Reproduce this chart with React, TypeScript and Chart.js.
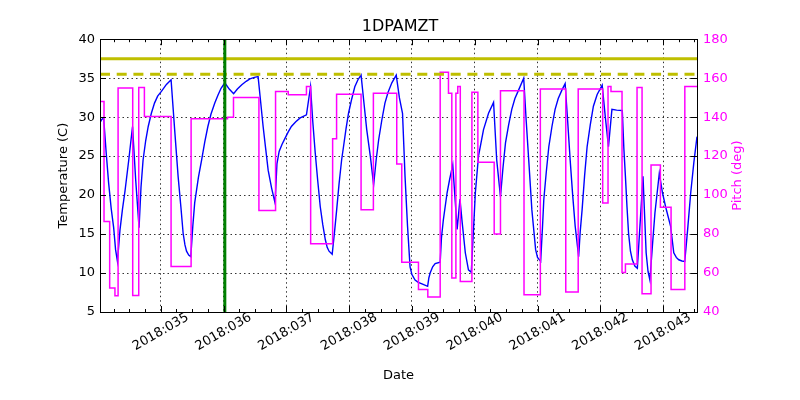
import React, { useEffect, useRef } from "react";
import { Chart, registerables } from "chart.js";
Chart.register(...registerables);

const TITLE = "1DPAMZT";
const YEAR = "2018";
const FONT = "'DejaVu Sans', sans-serif";

const xMin = 34.032;
const xMax = 43.54;
const dayTicks = [35, 36, 37, 38, 39, 40, 41, 42, 43];
const tempRange = [5, 40];
const pitchRange = [40, 180];

const planningLimit = 37.5;
const cautionLimit = 35.5;
const eventDay = 36.02;

const tempDays = [
  34.032, 34.06, 34.09, 34.13, 34.17, 34.21, 34.25, 34.28, 34.31, 34.35, 34.39, 34.43, 34.49, 34.55,
  34.6, 34.654, 34.685, 34.718, 34.76, 34.8, 34.85, 34.9, 34.95, 35.01, 35.09, 35.164,
  35.22, 35.276, 35.32, 35.356, 35.385, 35.41, 35.445, 35.478, 35.51, 35.54, 35.6, 35.65, 35.7,
  35.75, 35.8, 35.86, 35.91, 35.96, 36.02, 36.09, 36.16, 36.22, 36.29, 36.36, 36.42, 36.49, 36.55,
  36.59, 36.63, 36.67, 36.71, 36.765, 36.82, 36.85, 36.885, 36.93, 36.98, 37.03, 37.08, 37.15,
  37.22, 37.27, 37.32, 37.385, 37.42, 37.46, 37.5, 37.54, 37.58, 37.62, 37.65, 37.68, 37.73,
  37.77, 37.8, 37.84, 37.88, 37.91, 37.95, 37.99, 38.04, 38.09, 38.14, 38.19, 38.24, 38.28, 38.34,
  38.39, 38.43, 38.47, 38.52, 38.57, 38.62, 38.68, 38.75, 38.8, 38.85, 38.87, 38.89, 38.93, 38.97,
  39.0, 39.05, 39.1, 39.16, 39.25, 39.27, 39.29, 39.33, 39.37, 39.45, 39.47, 39.5, 39.56, 39.6,
  39.65, 39.72, 39.765, 39.8, 39.85, 39.9, 39.945, 39.98, 40.01, 40.06, 40.14, 40.22, 40.3, 40.35,
  40.41, 40.45, 40.49, 40.54, 40.59, 40.64, 40.7, 40.78, 40.82, 40.86, 40.91, 40.97, 41.0, 41.05,
  41.08, 41.1, 41.14, 41.18, 41.23, 41.28, 41.33, 41.39, 41.44, 41.48, 41.52, 41.56, 41.6, 41.655,
  41.68, 41.71, 41.75, 41.79, 41.84, 41.89, 41.95, 42.03, 42.08, 42.13, 42.185, 42.26, 42.35,
  42.375, 42.4, 42.425, 42.45, 42.48, 42.51, 42.55, 42.59, 42.68, 42.73, 42.76, 42.79, 42.83,
  42.87, 42.94, 42.99, 43.04, 43.12, 43.17, 43.21, 43.25, 43.3, 43.345, 43.39, 43.44, 43.49, 43.54,
];
const tempValues = [
  29.3, 29.7, 29.9, 25.5, 21.5, 18.3, 15.8, 13.0, 11.5, 15.5, 18.2, 20.5, 24.5, 28.8,
  22.0, 15.8, 21.0, 24.5, 27.0, 28.8, 30.5, 31.8, 32.7, 33.3, 34.2, 34.8,
  28.5, 22.4, 18.5, 15.1, 13.6, 12.8, 12.3, 12.1, 16.0, 19.0, 22.3, 24.5, 26.8,
  28.8, 30.4, 31.8, 32.8, 33.7, 34.4, 33.6, 33.0, 33.6, 34.15, 34.6, 34.9, 35.1, 35.2,
  32.0, 28.8, 26.0, 23.2, 20.9, 19.0, 24.0, 25.6, 26.5, 27.3, 28.1, 28.8, 29.4,
  29.9, 30.1, 30.3, 33.9, 29.5, 25.4, 21.8, 18.5, 16.2, 14.3, 13.3, 12.8, 12.4,
  15.5, 18.0, 21.5, 24.5, 26.2, 28.5, 30.5, 32.3, 33.9, 34.8, 35.4, 31.5, 28.4, 24.8,
  21.3, 24.5, 27.1, 29.6, 31.8, 33.2, 34.4, 35.4, 32.5, 30.5, 26.5, 22.4, 16.0, 10.8,
  9.8, 9.1, 8.8, 8.6, 8.3, 9.4, 10.0, 10.8, 11.2, 11.4, 14.5, 16.8, 20.3, 22.0,
  23.9, 15.6, 19.5, 16.5, 12.6, 10.4, 10.1, 15.5, 20.3, 25.0, 28.4, 30.5, 31.9, 24.5,
  19.8, 23.5, 26.7, 29.0, 31.0, 32.4, 33.5, 35.0, 29.5, 24.5, 18.1, 13.0, 12.0, 11.5,
  16.0, 19.4, 23.0, 26.2, 28.8, 31.0, 32.4, 33.5, 34.3, 29.5, 24.5, 20.0, 16.0, 12.1,
  15.3, 18.1, 22.5, 26.2, 29.0, 31.4, 32.9, 34.1, 30.0, 26.2, 31.0, 30.9, 30.85,
  26.0, 22.4, 18.5, 15.1, 12.8, 11.7, 10.9, 10.6, 22.4, 12.6, 10.2, 9.1, 13.5,
  17.7, 22.8, 20.3, 18.5, 16.0, 12.6, 12.0, 11.7, 11.55, 11.5, 15.5, 20.3, 24.2, 27.5,
];

// Pitch: each value holds from its day until the next day in the list
const pitchDays = [
  34.032, 34.096, 34.186, 34.27, 34.32, 34.553, 34.649, 34.739, 35.164, 35.483, 36.063, 36.158,
  36.563, 36.828, 37.03, 37.32, 37.387, 37.737, 37.8, 38.19, 38.386, 38.758, 38.838, 39.104,
  39.253, 39.45, 39.582, 39.635, 39.7, 39.73, 39.77, 39.955, 40.05, 40.31, 40.41, 40.785,
  41.045, 41.45, 41.648, 42.038, 42.123, 42.17, 42.346, 42.4, 42.585, 42.665, 42.808, 42.957,
  43.127, 43.346, 43.54,
];
const pitchValues = [
  148.0, 86.5, 52.3, 48.4, 154.9, 48.5, 155.2, 140.3, 63.4, 139.2, 140.0, 150.1,
  92.1, 153.2, 151.5, 155.7, 75.0, 128.9, 151.8, 92.5, 152.3, 115.9, 65.5, 51.5,
  47.7, 163.1, 152.3, 57.4, 152.3, 155.7, 55.7, 152.8, 116.8, 80.0, 153.5, 48.9,
  154.4, 50.3, 154.5, 95.9, 155.7, 153.2, 60.3, 64.6, 155.2, 49.4, 115.4, 93.7,
  51.5, 155.7, 155.7,
];

const dayLabel = (v: number) => `${YEAR}:${String(Math.round(v)).padStart(3, "0")}`;

const decorPlugin = {
  id: "decor",
  afterDraw(chart: any) {
    const { ctx, chartArea: a, scales } = chart;
    const x = scales.x;
    const y = scales.y;
    const y2 = scales.y2;
    ctx.save();
    ctx.strokeStyle = "#000";
    ctx.lineWidth = 1;
    ctx.setLineDash([]);
    ctx.beginPath();
    for (const t of x.ticks) {
      const px = Math.round(x.getPixelForValue(t.value)) + 0.5;
      ctx.moveTo(px, a.bottom);
      ctx.lineTo(px, a.bottom - 6);
      ctx.moveTo(px, a.top);
      ctx.lineTo(px, a.top + 6);
    }
    for (let v = Math.ceil(x.min * 4) / 4; v <= x.max; v += 0.25) {
      if (Math.abs(v - Math.round(v)) < 1e-6) continue;
      const px = Math.round(x.getPixelForValue(v)) + 0.5;
      ctx.moveTo(px, a.bottom);
      ctx.lineTo(px, a.bottom - 3);
      ctx.moveTo(px, a.top);
      ctx.lineTo(px, a.top + 3);
    }
    for (const t of y.ticks) {
      const py = Math.round(y.getPixelForValue(t.value)) + 0.5;
      ctx.moveTo(a.left, py);
      ctx.lineTo(a.left + 6, py);
    }
    for (const t of y2.ticks) {
      const py = Math.round(y2.getPixelForValue(t.value)) + 0.5;
      ctx.moveTo(a.right, py);
      ctx.lineTo(a.right - 6, py);
    }
    ctx.stroke();
    ctx.strokeRect(Math.round(a.left) + 0.5, Math.round(a.top) + 0.5, Math.round(a.right - a.left), Math.round(a.bottom - a.top));

    ctx.fillStyle = "#000";
    ctx.font = `13px ${FONT}`;
    ctx.textAlign = "center";
    ctx.textBaseline = "middle";
    for (const t of x.ticks) {
      const px = x.getPixelForValue(t.value);
      ctx.save();
      ctx.translate(px, a.bottom + 20);
      ctx.rotate(-Math.PI / 6);
      ctx.fillText(dayLabel(t.value), 0, 0);
      ctx.restore();
    }
    ctx.fillStyle = "#ff00ff";
    ctx.save();
    ctx.translate(738, (a.top + a.bottom) / 2);
    ctx.rotate(-Math.PI / 2);
    ctx.fillText("Pitch (deg)", 0, 0);
    ctx.restore();
    ctx.restore();
  },
};

export default function App() {
  const ref = useRef<HTMLCanvasElement>(null);
  useEffect(() => {
    if (!ref.current) return;
    const font = { family: FONT, size: 13 };
    const chart = new Chart(ref.current, {
      type: "line",
      data: {
        datasets: [
          {
            label: "event",
            data: [{ x: eventDay, y: tempRange[0] }, { x: eventDay, y: tempRange[1] }],
            yAxisID: "y",
            borderColor: "#008000",
            borderWidth: 3,
            pointRadius: 0,
            order: 0,
          },
          {
            label: "planning",
            data: [{ x: xMin, y: planningLimit }, { x: xMax, y: planningLimit }],
            yAxisID: "y",
            borderColor: "#bfbf00",
            borderWidth: 3,
            pointRadius: 0,
            order: 1,
          },
          {
            label: "caution",
            data: [{ x: xMin, y: cautionLimit }, { x: xMax, y: cautionLimit }],
            yAxisID: "y",
            borderColor: "#bfbf00",
            borderWidth: 3,
            borderDash: [10, 6.7],
            borderCapStyle: "butt",
            pointRadius: 0,
            order: 2,
          },
          {
            label: "Pitch",
            data: pitchDays.map((d, i) => ({ x: d, y: pitchValues[i] })),
            yAxisID: "y2",
            borderColor: "#ff00ff",
            borderWidth: 1.5,
            stepped: "before",
            pointRadius: 0,
            order: 3,
          },
          {
            label: "1DPAMZT",
            data: tempDays.map((d, i) => ({ x: d, y: tempValues[i] })),
            yAxisID: "y",
            borderColor: "#0000ff",
            borderWidth: 1.4,
            tension: 0,
            pointRadius: 0,
            order: 4,
          },
        ],
      },
      options: {
        animation: false,
        responsive: false,
        maintainAspectRatio: false,
        layout: { padding: 0 },
        plugins: {
          legend: { display: false },
          tooltip: { enabled: false },
          title: {
            display: true,
            text: TITLE,
            color: "#000",
            font: { family: FONT, size: 16, weight: "normal" },
            padding: { top: 17, bottom: 3 },
          },
        },
        scales: {
          x: {
            type: "linear",
            min: xMin,
            max: xMax,
            afterBuildTicks: (s: any) => {
              s.ticks = dayTicks.map((v) => ({ value: v }));
            },
            afterFit: (s: any) => {
              s.height = 88;
            },
            ticks: { display: false },
            grid: { color: "#000", lineWidth: 0.8, drawTicks: false },
            border: { display: false, dash: [1.5, 3] },
            title: { display: true, text: "Date", color: "#000", font, padding: { top: 0, bottom: 17 } },
          },
          y: {
            type: "linear",
            position: "left",
            min: tempRange[0],
            max: tempRange[1],
            afterFit: (s: any) => {
              s.width = 100;
            },
            ticks: { stepSize: 5, color: "#000", font, padding: 5 },
            grid: { color: "#000", lineWidth: 0.8, drawTicks: false },
            border: { display: false, dash: [1.5, 3] },
            title: { display: true, text: "Temperature (C)", color: "#000", font, padding: { top: 56, bottom: 0 } },
          },
          y2: {
            type: "linear",
            position: "right",
            min: pitchRange[0],
            max: pitchRange[1],
            afterFit: (s: any) => {
              s.width = 103;
            },
            ticks: { stepSize: 20, color: "#ff00ff", font, padding: 6 },
            grid: { display: false, drawTicks: false },
            border: { display: false },
          },
        },
      },
      plugins: [decorPlugin],
    });
    return () => chart.destroy();
  }, []);
  return (
    <div style={{ position: "fixed", left: 0, top: 0, width: 800, height: 400, background: "#fff" }}>
      <canvas ref={ref} width={800} height={400} />
    </div>
  );
}
